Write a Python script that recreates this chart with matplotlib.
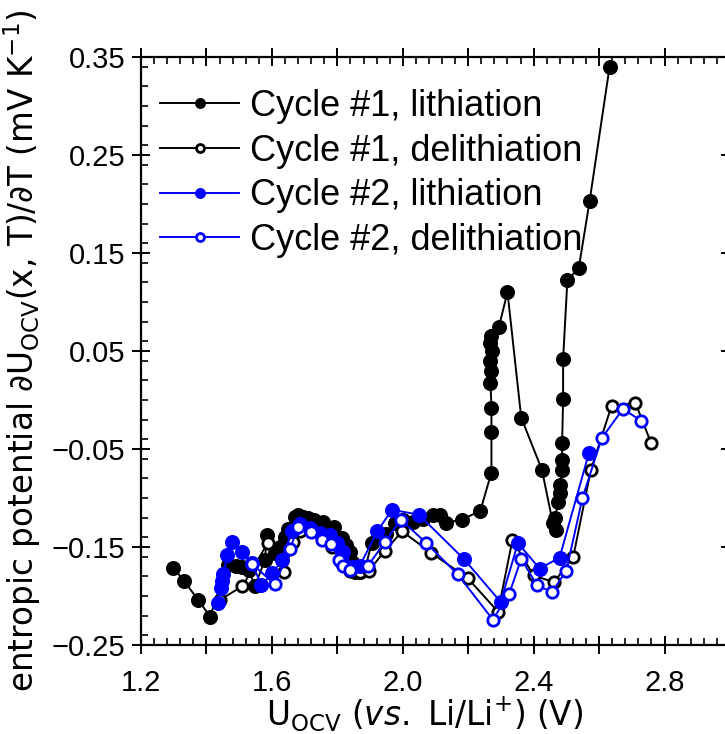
import matplotlib
matplotlib.use("Agg")
import matplotlib.pyplot as plt
from matplotlib.ticker import MultipleLocator, FixedLocator

plt.rcParams["mathtext.fontset"] = "dejavusans"

# Cycle #1, lithiation (path order, high voltage first)
c1_lith_u = [2.632, 2.571, 2.538, 2.503, 2.490, 2.490, 2.487, 2.487, 2.487, 2.481,
             2.481, 2.474, 2.466, 2.469, 2.459, 2.425, 2.362, 2.320, 2.294, 2.270,
             2.268, 2.272, 2.268, 2.270, 2.268, 2.271, 2.271, 2.271, 2.237, 2.182,
             2.133, 2.113, 2.093, 2.062, 2.030, 2.000, 1.975, 1.950, 1.925, 1.905,
             1.885, 1.870, 1.855, 1.845, 1.838, 1.828, 1.813, 1.790, 1.757, 1.730,
             1.710, 1.696, 1.680, 1.670, 1.650, 1.640, 1.625, 1.609, 1.584, 1.579,
             1.548, 1.530, 1.510, 1.490, 1.465, 1.411, 1.375, 1.332, 1.299]
c1_lith_s = [0.340, 0.203, 0.135, 0.122, 0.042, 0.001, -0.044, -0.061, -0.071, -0.087,
             -0.095, -0.104, -0.120, -0.133, -0.126, -0.071, -0.018, 0.110, 0.075, 0.065,
             0.058, 0.050, 0.040, 0.030, 0.017, -0.008, -0.033, -0.074, -0.113, -0.122,
             -0.125, -0.117, -0.117, -0.121, -0.124, -0.122, -0.126, -0.137, -0.141, -0.146,
             -0.172, -0.176, -0.175, -0.165, -0.155, -0.148, -0.141, -0.130, -0.124, -0.122,
             -0.120, -0.119, -0.117, -0.119, -0.132, -0.140, -0.150, -0.156, -0.138, -0.163,
             -0.190, -0.173, -0.170, -0.169, -0.168, -0.221, -0.204, -0.185, -0.171]

# Cycle #1, delithiation
c1_deli_u = [1.441, 1.510, 1.587, 1.638, 1.665, 1.686, 1.720, 1.752, 1.785, 1.810,
             1.838, 1.870, 1.897, 1.945, 1.998, 2.087, 2.199, 2.291, 2.335, 2.400,
             2.462, 2.521, 2.575, 2.638, 2.711, 2.759]
c1_deli_s = [-0.204, -0.190, -0.146, -0.176, -0.145, -0.134, -0.133, -0.138, -0.150, -0.165,
             -0.174, -0.176, -0.174, -0.154, -0.134, -0.156, -0.182, -0.216, -0.143, -0.179,
             -0.186, -0.160, -0.071, -0.006, -0.003, -0.044]

# Cycle #2, lithiation
c2_lith_u = [2.569, 2.479, 2.418, 2.352, 2.299, 2.186, 2.049, 1.967, 1.922, 1.869,
             1.848, 1.818, 1.800, 1.777, 1.747, 1.716, 1.686, 1.660, 1.631, 1.601,
             1.568, 1.538, 1.509, 1.479, 1.464, 1.452, 1.448, 1.443, 1.436]
c2_lith_s = [-0.054, -0.161, -0.172, -0.146, -0.206, -0.162, -0.117, -0.112, -0.134, -0.169,
             -0.170, -0.155, -0.146, -0.138, -0.136, -0.131, -0.127, -0.134, -0.163, -0.177,
             -0.189, -0.166, -0.155, -0.145, -0.158, -0.178, -0.185, -0.192, -0.207]

# Cycle #2, delithiation
c2_deli_u = [1.538, 1.609, 1.655, 1.680, 1.718, 1.752, 1.782, 1.806, 1.818, 1.838,
             1.894, 1.945, 1.994, 2.072, 2.168, 2.275, 2.325, 2.362, 2.410, 2.456,
             2.500, 2.549, 2.608, 2.673, 2.727]
c2_deli_s = [-0.167, -0.188, -0.152, -0.130, -0.135, -0.143, -0.147, -0.163, -0.169, -0.173,
             -0.169, -0.145, -0.122, -0.146, -0.178, -0.224, -0.198, -0.162, -0.189, -0.196,
             -0.174, -0.100, -0.039, -0.009, -0.021]

x_ticks = [1.2, 1.4, 1.6, 1.8, 2.0, 2.2, 2.4, 2.6, 2.8, 3.0]
x_ticklabels = ["1.2", "", "1.6", "", "2.0", "", "2.4", "", "2.8", ""]
y_ticks = [-0.25, -0.15, -0.05, 0.05, 0.15, 0.25, 0.35]
y_ticklabels = ["\u22120.25", "\u22120.15", "\u22120.05", "0.05", "0.15", "0.25", "0.35"]

BLUE = "#0000ff"

fig = plt.figure(figsize=(7.25, 7.34), dpi=100)
ax = fig.add_axes([141 / 725, 89 / 734, 589 / 725, 588 / 734])

filled = dict(linewidth=1.4, markersize=9.8)
hollow = dict(linewidth=1.4, markersize=8.2, mfc="white", mew=2.0)
ax.plot(c1_lith_u, c1_lith_s, "-o", color="black", mec="black",
        label="Cycle #1, lithiation", zorder=3, **filled)
ax.plot(c1_deli_u, c1_deli_s, "-o", color="black", mec="black",
        label="Cycle #1, delithiation", zorder=4, **hollow)
ax.plot(c2_lith_u, c2_lith_s, "-o", color=BLUE, mec=BLUE,
        label="Cycle #2, lithiation", zorder=5, **filled)
ax.plot(c2_deli_u, c2_deli_s, "-o", color=BLUE, mec=BLUE,
        label="Cycle #2, delithiation", zorder=6, **hollow)

ax.set_xlim(1.2, 3.0)
ax.set_ylim(-0.25, 0.35)

ax.set_xticks(x_ticks)
ax.set_xticklabels(x_ticklabels)
ax.xaxis.set_minor_locator(MultipleLocator(0.04))
ax.yaxis.set_major_locator(FixedLocator(y_ticks))
ax.set_yticklabels(y_ticklabels)
ax.yaxis.set_minor_locator(MultipleLocator(0.02))

for label in ax.get_xticklabels() + ax.get_yticklabels():
    label.set_fontfamily("Liberation Sans")
    label.set_fontsize(21)

ax.tick_params(which="major", direction="inout", length=13, width=1.4,
               top=True, right=True)
ax.tick_params(axis="x", which="major", pad=11)
ax.tick_params(axis="y", which="major", pad=5)
ax.tick_params(which="minor", direction="in", length=5, width=1.2,
               top=True, right=False)
for side in ax.spines.values():
    side.set_linewidth(1.6)

ax.set_xlabel(r"U$_{\mathrm{OCV}}$ ($\it{vs.}$ Li/Li$^{+}$) (V)",
              fontfamily="DejaVu Sans", fontsize=23.5)
ax.xaxis.set_label_coords(0.482, -0.086)
ax.set_ylabel(r"entropic potential $\partial\mathrm{U}_{\mathrm{OCV}}(\mathrm{x,\,T})/\partial\mathrm{T}$ (mV K$^{-1}$)",
              fontfamily="DejaVu Sans", fontsize=23.5, labelpad=6)

ax.legend(loc="upper left", bbox_to_anchor=(0.032, 0.946), frameon=False,
          handlelength=2.2, handletextpad=0.3, labelspacing=0.27,
          borderaxespad=0, borderpad=0, markerscale=0.7,
          prop={"family": "Liberation Sans", "size": 26})

fig.savefig("out.png", dpi=100)
